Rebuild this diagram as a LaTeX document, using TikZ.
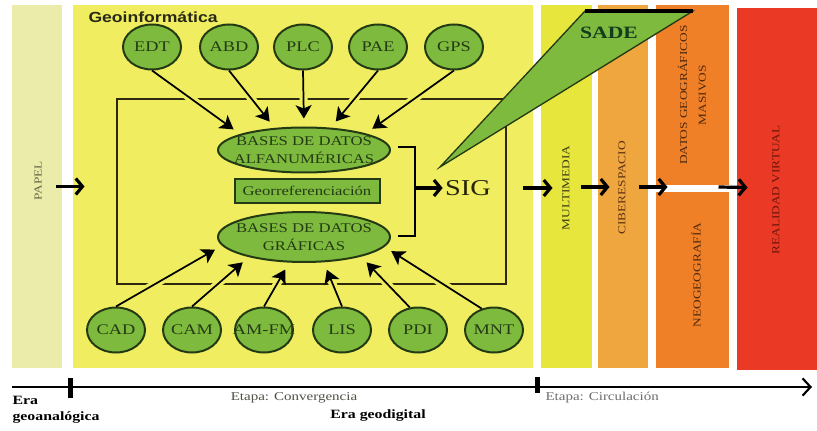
\documentclass[tikz,border=0pt]{standalone}
\usepackage{fontspec}
\setmainfont{Liberation Serif}[FakeStretch=1.25]
\newfontfamily\headfont{Liberation Sans}[FakeStretch=1.2]
\usetikzlibrary{shapes.geometric,arrows.meta,calc}

\definecolor{papelc}{RGB}{236,236,170}
\definecolor{geoc}{RGB}{240,238,96}
\definecolor{multic}{RGB}{230,230,60}
\definecolor{ciberc}{RGB}{240,166,62}
\definecolor{masivc}{RGB}{240,128,40}
\definecolor{realc}{RGB}{234,58,38}
\definecolor{leafc}{RGB}{126,186,62}
\definecolor{inkc}{RGB}{36,58,20}
\definecolor{framec}{RGB}{45,40,15}
\definecolor{etapac}{RGB}{80,80,70}
\definecolor{circc}{RGB}{110,110,110}

\tikzset{every picture/.style={line width=0.75pt}}
\tikzset{
  strip/.style={rectangle, inner sep=0pt, minimum height=272.25pt},
  striptext/.style={rotate=90, align=center, inner sep=0pt, font=\fontsize{8}{14}\selectfont},
  tool/.style={ellipse, draw=inkc, line width=1.5pt, fill=leafc, text=inkc, inner xsep=-8pt, inner ysep=1pt, minimum width=43.5pt, minimum height=33.75pt, font=\fontsize{11}{12}\selectfont},
  base/.style={ellipse, draw=inkc, line width=1.5pt, fill=leafc, text=inkc, align=center, inner xsep=-8pt, inner ysep=0pt, minimum width=129pt, minimum height=33.75pt, font=\fontsize{10}{13.5}\selectfont},
  feed/.style={-{Stealth[length=10pt,width=12pt,inset=2.5pt]}, line width=1.3pt, shorten >=6pt, preaction={draw=geoc, -, line width=6pt, shorten <=14pt, shorten >=14pt}},
  flow/.style={-{Straight Barb[length=5pt,width=12pt]}, line width=2.4pt},
  etapa/.style={inner sep=0pt, font=\fontsize{9}{11}\selectfont},
  era/.style={inner sep=0pt, font=\bfseries\fontsize{9.5}{12}\selectfont},
  tick/.style={rectangle, fill=black, inner sep=0pt, minimum width=3.75pt, minimum height=15pt},
}

\begin{document}
\begin{tikzpicture}[x=0.75pt,y=0.75pt,yscale=-1,xscale=1]
\useasboundingbox (0,0) rectangle (817,431);

% Strips
\node[strip, fill=papelc, minimum width=37.5pt] (papel) at (37,186.5) {};
\node[strip, fill=geoc, minimum width=345pt] (geo) at (303,186.5) {};
\node[strip, fill=multic, minimum width=38.25pt] (multi) at (566.5,186.5) {};
\node[strip, fill=ciberc, minimum width=37.5pt] (ciber) at (623,186.5) {};
\node[strip, fill=masivc, minimum width=54.75pt, minimum height=135pt] (masivos) at (692.5,95) {};
\node[strip, fill=masivc, minimum width=54.75pt, minimum height=132pt] (neogeo) at (692.5,280) {};
\node[strip, fill=realc, minimum width=60pt, minimum height=271.5pt] (realidad) at (777,189) {};

% Strip labels
\node[striptext, text={rgb,255:red,100;green,100;blue,70}] (papeltxt) at (38,181) {PAPEL};
\node[striptext, text={rgb,255:red,60;green,60;blue,20}] (multitxt) at (566,188) {MULTIMEDIA};
\node[striptext, text={rgb,255:red,90;green,50;blue,20}] (cibertxt) at (622,188) {CIBERESPACIO};
\node[striptext, text={rgb,255:red,80;green,40;blue,10}] (masivostxt) at (692,95) {DATOS GEOGRÁFICOS\\MASIVOS};
\node[striptext, text={rgb,255:red,80;green,40;blue,10}] (neogeotxt) at (696,275) {NEOGEOGRAFÍA};
\node[striptext, text={rgb,255:red,110;green,20;blue,10}] (realtxt) at (776,190) {REALIDAD VIRTUAL};

% Text Node
\node[anchor=west, inner sep=0pt, text={rgb,255:red,40;green,40;blue,20}, font=\headfont\bfseries\fontsize{11}{13}\selectfont] (geotitle) at (88,17) {Geoinformática};

%Shape: Rectangle
\draw[draw=framec, line width=1.5pt] (117,99) rectangle (506,284);

% Top ellipses
\node[tool] (edt) at (152,47) {EDT};
\node[tool] (abd) at (229,47) {ABD};
\node[tool] (plc) at (303,47) {PLC};
\node[tool] (pae) at (378,47) {PAE};
\node[tool] (gps) at (454,47) {GPS};

% Bottom ellipses
\node[tool] (cad) at (116,330) {CAD};
\node[tool] (cam) at (192,330) {CAM};
\node[tool] (amfm) at (264,330) {AM-FM};
\node[tool] (lis) at (342,330) {LIS};
\node[tool] (pdi) at (418,330) {PDI};
\node[tool] (mnt) at (494,330) {MNT};

% Data bases
\node[base] (bda) at (304,150) {BASES DE DATOS\\ALFANUMÉRICAS};
\node[base, minimum height=37.5pt] (bdg) at (304,237) {BASES DE DATOS\\GRÁFICAS};
\node[rectangle, draw=inkc, line width=1.5pt, fill=leafc, text=inkc, inner sep=0pt, minimum width=108.75pt, minimum height=17.25pt, font=\fontsize{10}{12}\selectfont] (georef) at (307,191) {Georreferenciación};

% Feeding arrows
\draw[feed] (edt.south) -- (bda.166);
\draw[feed] (abd.south) -- (bda.143);
\draw[feed] (plc.south) -- (bda.north);
\draw[feed] (pae.south) -- (bda.40);
\draw[feed] (gps.south) -- (bda.15);
\draw[feed] (cad.north) -- (bdg.186);
\draw[feed] (cam.north) -- (bdg.200);
\draw[feed] (amfm.north) -- (bdg.240);
\draw[feed] (lis.north) -- (bdg.308);
\draw[feed] (pdi.110) -- (bdg.341);
\draw[feed] (mnt.120) -- (bdg.353);

% Bracket and SIG
\draw[line width=2pt] (398,147) -| (415,236) -- (398,236);
\coordinate (brk) at (415,188);
\node[inner sep=0pt, text={rgb,255:red,40;green,36;blue,10}, font=\fontsize{17}{20}\selectfont] (sig) at (468,188) {SIG};
\draw[flow] (brk) -- ($(sig.west)+(-2,0)$);

% SADE
\filldraw[fill=leafc, draw=inkc, line width=1pt] (440,167) -- (585,11) -- (693,11) -- cycle;
\draw[line width=2.5pt] (585,11) -- (693,11);
\node[inner sep=0pt, text={rgb,255:red,20;green,60;blue,30}, font=\bfseries\fontsize{13}{15}\selectfont] (sade) at (609,33) {SADE};

% Flow arrows
\draw[flow] ($(papel.east)+(-7,0)$) -- ($(geo.west)+(12,0)$);
\draw[flow] ($(geo.east)+(-11,1.5)$) -- ($(multi.west)+(12,1.5)$);
\draw[flow] ($(multi.east)+(-12,0.5)$) -- ($(ciber.west)+(12,0.5)$);
\draw[flow] ($(ciber.east)+(-10,0.5)$) -- ($(ciber.east -| masivos.west)+(12,0.5)$);
\draw[flow] ($(ciber.east -| masivos.east)+(-11,0.5)$) -- ($(realidad.west)+(11,-1.5)$);

% Timeline
\coordinate (tstart) at (12,387);
\coordinate (tend) at (812,387);
\draw[line width=1.6pt, -{Straight Barb[length=6pt,width=13pt]}] (tstart) -- (tend);
\node[tick] (tick1) at (70,387.5) {};
\node[tick, minimum height=12pt] (tick2) at (537,385) {};

% Text Node
\node[era, anchor=west, align=left] (eraana) at (12,410) {Era\\geoanalógica};
\node[etapa, text=etapac] (conv) at (294,398) {Etapa: Convergencia};
\node[era] (geodig) at (378,416) {Era geodigital};
\node[etapa, anchor=west, text=circc] (circ) at (545,398) {Etapa: Circulación};
\end{tikzpicture}
\end{document}
